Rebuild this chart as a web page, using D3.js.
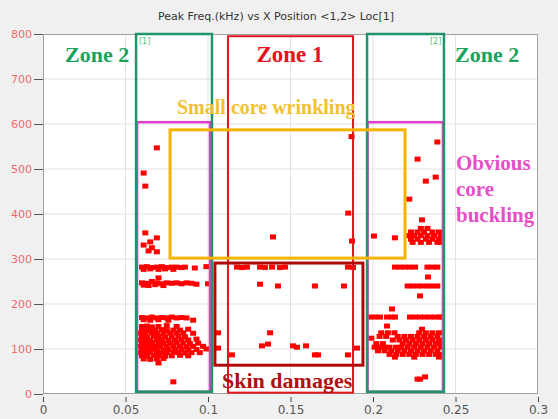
<!DOCTYPE html>
<html>
<head>
<meta charset="utf-8">
<script src="https://cdn.jsdelivr.net/npm/d3@7"></script>
<style>
  html, body { margin: 0; padding: 0; background: #f0f0f0; }
  svg { display: block; }
</style>
</head>
<body>
<svg id="chart" width="558" height="419"></svg>
<script>
// Axis tick values
const xTicks = [0, 0.05, 0.1, 0.15, 0.2, 0.25, 0.3];
const yTicks = [0, 100, 200, 300, 400, 500, 600, 700, 800];

// AE hits: [x position, peak frequency kHz] — sensor 1 side
const hitsLeft = [
  [0.069, 547], [0.061, 491], [0.062, 462], [0.062, 358], [0.069, 347], [0.061, 331],
  [0.065, 338], [0.064, 318], [0.069, 316], [0.066, 325],
  [0.060, 282], [0.063, 283], [0.066, 281], [0.069, 282], [0.072, 283], [0.075, 281],
  [0.078, 282], [0.081, 282], [0.084, 281], [0.086, 282], [0.092, 280], [0.099, 283],
  [0.061, 277], [0.065, 278], [0.070, 277], [0.074, 278], [0.079, 277],
  [0.070, 258],
  [0.060, 247], [0.063, 246], [0.066, 250], [0.069, 247], [0.072, 245], [0.075, 247],
  [0.078, 246], [0.081, 247], [0.084, 245], [0.087, 247], [0.090, 246], [0.093, 244], [0.100, 245],
  [0.061, 242], [0.064, 241], [0.068, 243], [0.073, 241],
  [0.060, 170], [0.063, 169], [0.066, 171], [0.069, 169], [0.072, 170], [0.075, 169],
  [0.078, 171], [0.081, 169], [0.084, 170], [0.087, 169], [0.091, 164],
  [0.061, 165], [0.065, 164], [0.070, 165], [0.076, 164],
  [0.060, 150], [0.063, 151], [0.066, 149], [0.070, 150], [0.081, 150], [0.075, 152],
  [0.060, 142], [0.062, 143], [0.065, 141], [0.068, 142], [0.072, 143], [0.075, 141], [0.079, 142], [0.083, 142], [0.088, 144],
  [0.059, 135], [0.062, 134], [0.066, 136], [0.069, 135], [0.073, 134], [0.077, 135], [0.081, 136], [0.085, 136], [0.091, 135],
  [0.060, 128], [0.063, 127], [0.067, 129], [0.070, 128], [0.074, 127], [0.078, 128], [0.082, 128], [0.086, 127],
  [0.059, 120], [0.062, 121], [0.065, 119], [0.069, 120], [0.072, 121], [0.076, 119], [0.080, 120], [0.084, 121], [0.088, 120], [0.093, 122],
  [0.060, 113], [0.063, 112], [0.066, 114], [0.070, 113], [0.073, 112], [0.077, 113], [0.081, 114], [0.085, 113], [0.089, 112], [0.094, 113],
  [0.059, 106], [0.062, 105], [0.065, 107], [0.068, 106], [0.071, 105], [0.075, 106], [0.079, 107], [0.083, 106], [0.087, 105], [0.091, 106], [0.097, 106],
  [0.060, 99], [0.063, 98], [0.066, 100], [0.069, 99], [0.073, 98], [0.076, 99], [0.080, 100], [0.084, 99], [0.088, 98], [0.093, 99], [0.099, 100],
  [0.059, 92], [0.062, 91], [0.065, 93], [0.069, 92], [0.072, 91], [0.075, 92], [0.079, 93], [0.082, 92], [0.086, 91], [0.090, 92], [0.095, 92],
  [0.060, 85], [0.063, 84], [0.067, 86], [0.070, 85], [0.074, 84], [0.078, 85], [0.083, 86], [0.088, 85],
  [0.061, 78], [0.065, 77], [0.069, 78], [0.073, 79],
  [0.070, 69], [0.079, 27]
];

// AE hits between the sensors
const hitsMiddle = [
  [0.187, 572], [0.185, 402],
  [0.1394, 349], [0.1873, 340],
  [0.1176, 282], [0.1206, 281], [0.1236, 282], [0.1315, 282], [0.1345, 281], [0.1388, 282],
  [0.1436, 281], [0.1467, 282], [0.1848, 282], [0.1879, 281],
  [0.1315, 244], [0.1424, 240], [0.1648, 240], [0.1824, 240],
  [0.1376, 136], [0.1061, 136],
  [0.1327, 107], [0.1364, 111], [0.1515, 107], [0.1539, 104], [0.1594, 107],
  [0.1648, 87], [0.1667, 87], [0.1145, 87], [0.1848, 87], [0.1903, 102], [0.1061, 102]
];

// AE hits — sensor 2 side
const hitsRight = [
  [0.239, 560], [0.227, 522], [0.238, 482], [0.232, 473], [0.222, 433], [0.2297, 387],
  [0.229, 368], [0.233, 368],
  [0.223, 360], [0.227, 360], [0.231, 360], [0.236, 360], [0.240, 360],
  [0.222, 352], [0.225, 352], [0.229, 352], [0.233, 352], [0.237, 352], [0.241, 352],
  [0.223, 344], [0.227, 344], [0.232, 344], [0.236, 344], [0.240, 344],
  [0.224, 337], [0.229, 337], [0.234, 337], [0.239, 337], [0.241, 337],
  [0.2006, 351], [0.2133, 347],
  [0.2133, 282], [0.2164, 282], [0.2194, 282], [0.2224, 282], [0.2255, 282],
  [0.2330, 282], [0.2360, 282], [0.2390, 282],
  [0.2333, 260],
  [0.221, 240], [0.224, 240], [0.227, 240], [0.230, 240], [0.233, 240], [0.236, 240], [0.239, 240],
  [0.2285, 218], [0.2115, 189],
  [0.198, 171], [0.2012, 171], [0.2042, 171], [0.2085, 171], [0.2115, 171], [0.2133, 171],
  [0.2224, 171], [0.2255, 171], [0.2285, 171], [0.2315, 171], [0.2345, 171], [0.2376, 171], [0.2406, 171], [0.2418, 171],
  [0.2085, 151], [0.2297, 144], [0.199, 124],
  [0.205, 136], [0.209, 136], [0.213, 136], [0.228, 136], [0.232, 136], [0.236, 136], [0.240, 136],
  [0.204, 128], [0.208, 128], [0.215, 128], [0.219, 128], [0.223, 128], [0.227, 128], [0.231, 128], [0.235, 128], [0.239, 128],
  [0.212, 120], [0.216, 120], [0.220, 120], [0.224, 120], [0.228, 120], [0.232, 120], [0.236, 120], [0.240, 120],
  [0.202, 112], [0.206, 112], [0.218, 112], [0.222, 112], [0.226, 112], [0.230, 112], [0.234, 112], [0.238, 112], [0.241, 112],
  [0.201, 104], [0.204, 104], [0.207, 104], [0.210, 104], [0.214, 104], [0.217, 104], [0.221, 104], [0.225, 104], [0.229, 104], [0.233, 104], [0.237, 104], [0.241, 104],
  [0.203, 96], [0.207, 96], [0.211, 96], [0.215, 96], [0.219, 96], [0.223, 96], [0.227, 96], [0.231, 96], [0.235, 96], [0.239, 96],
  [0.210, 88], [0.214, 88], [0.218, 88], [0.222, 88], [0.226, 88], [0.230, 88], [0.234, 88], [0.238, 88], [0.241, 88],
  [0.2133, 82], [0.225, 82], [0.240, 82],
  [0.2315, 38], [0.2270, 33], [0.2285, 33]
];

// Annotated regions: [x0, x1, y0, y1] in data units
const zoneLeft = [0.0564, 0.1024, 5, 800];
const zoneRight = [0.1964, 0.2430, 5, 800];
const zoneCenter = [0.1121, 0.1879, 3, 795];
const bucklingLeft = [0.0570, 0.1012, 5, 604];
const bucklingRight = [0.1967, 0.2424, 5, 604];
const wrinkling = [0.0770, 0.2194, 302, 587];
const skinDamage = [0.1042, 0.1939, 64, 291];

const svg = d3.select("#chart");
const W = 558, H = 419;
const plot = { left: 43, right: 538, top: 34, bottom: 394 };

const x = d3.scaleLinear().domain([0, 0.3]).range([plot.left, plot.right]);
const y = d3.scaleLinear().domain([0, 800]).range([plot.bottom, plot.top]);

// window background and plot face
svg.append("rect").attr("width", W).attr("height", H).attr("fill", "#f0f0f0");
svg.append("rect")
  .attr("x", plot.left).attr("y", plot.top)
  .attr("width", plot.right - plot.left).attr("height", plot.bottom - plot.top)
  .attr("fill", "#ffffff");

// grid
const grid = svg.append("g");
grid.selectAll("line.gx").data(xTicks.slice(1, -1)).join("line")
  .attr("x1", d => x(d)).attr("x2", d => x(d))
  .attr("y1", plot.top).attr("y2", plot.bottom)
  .attr("stroke", "#e2e2e2").attr("stroke-width", 1);
grid.selectAll("line.gy").data(yTicks.slice(1, -1)).join("line")
  .attr("x1", plot.left).attr("x2", plot.right)
  .attr("y1", d => y(d)).attr("y2", d => y(d))
  .attr("stroke", "#e2e2e2").attr("stroke-width", 1);

// frame
svg.append("rect")
  .attr("x", plot.left + 0.5).attr("y", plot.top + 0.5)
  .attr("width", plot.right - plot.left - 1).attr("height", plot.bottom - plot.top - 1)
  .attr("fill", "none").attr("stroke", "#a0a0a0");

// axes
const xAxis = svg.append("g")
  .attr("transform", `translate(0,${plot.bottom + 3})`)
  .call(d3.axisBottom(x).tickValues(xTicks).tickSize(5).tickPadding(3)
    .tickFormat(d => d3.format("")(d)));
xAxis.select(".domain").remove();
xAxis.selectAll("line").attr("stroke", "#444");
xAxis.selectAll("text").attr("fill", "#555").attr("font-size", 12)
  .attr("font-family", "'DejaVu Sans', sans-serif");

const yAxis = svg.append("g")
  .attr("transform", `translate(${plot.left},0)`)
  .call(d3.axisLeft(y).tickValues(yTicks).tickSize(9).tickPadding(2));
yAxis.select(".domain").remove();
yAxis.selectAll("line").attr("stroke", "#555");
yAxis.selectAll("text").attr("fill", "#f06a6a").attr("font-size", 11)
  .attr("font-family", "'DejaVu Sans', sans-serif");

// title
svg.append("text")
  .attr("x", 276).attr("y", 20)
  .attr("text-anchor", "middle")
  .attr("font-family", "'DejaVu Sans', sans-serif")
  .attr("font-size", 11).attr("fill", "#333")
  .text("Peak Freq.(kHz) vs X Position <1,2> Loc[1]");

// hits
const hits = svg.append("g");
hits.selectAll("rect").data(hitsLeft.concat(hitsMiddle, hitsRight)).join("rect")
  .attr("x", d => x(d[0]) - 3).attr("y", d => y(d[1]) - 2.5)
  .attr("width", 6).attr("height", 5)
  .attr("fill", "#ff0000");

// region boxes
function box(r, color, width) {
  svg.append("rect")
    .attr("x", x(r[0])).attr("y", y(r[3]))
    .attr("width", x(r[1]) - x(r[0])).attr("height", y(r[2]) - y(r[3]))
    .attr("fill", "none").attr("stroke", color).attr("stroke-width", width);
}
box(bucklingLeft, "#e040c8", 2.5);
box(bucklingRight, "#e040c8", 2.5);
box(zoneLeft, "#22946a", 2.5);
box(zoneRight, "#22946a", 2.5);
box(zoneCenter, "#e4141c", 2);
box(wrinkling, "#f5b400", 3);
box(skinDamage, "#b00808", 3);

// labels
const serif = "'Liberation Serif', 'DejaVu Serif', serif";
function label(t, px, py, color, size, anchor) {
  svg.append("text")
    .attr("x", px).attr("y", py)
    .attr("text-anchor", anchor || "start")
    .attr("font-family", serif).attr("font-weight", "bold")
    .attr("font-size", size).attr("fill", color)
    .text(t);
}
label("Zone 2", 65, 62, "#1aa35a", 22);
label("Zone 1", 290, 62, "#e4141c", 23, "middle");
label("Zone 2", 455, 62, "#1aa35a", 22);
label("Small core wrinkling", 177, 114, "#f2c030", 20);
label("Obvious", 456, 170, "#e64fc8", 21);
label("core", 456, 196, "#e64fc8", 21);
label("buckling", 456, 222, "#e64fc8", 21);
label("Skin damages", 222, 388, "#b01010", 22);

// sensor markers
svg.append("text").attr("x", 139).attr("y", 44)
  .attr("font-family", "'DejaVu Sans', sans-serif").attr("font-size", 8)
  .attr("fill", "#4cc070").text("[1]");
svg.append("text").attr("x", 430).attr("y", 44)
  .attr("font-family", "'DejaVu Sans', sans-serif").attr("font-size", 8)
  .attr("fill", "#4cc070").text("[2]");
</script>
</body>
</html>
